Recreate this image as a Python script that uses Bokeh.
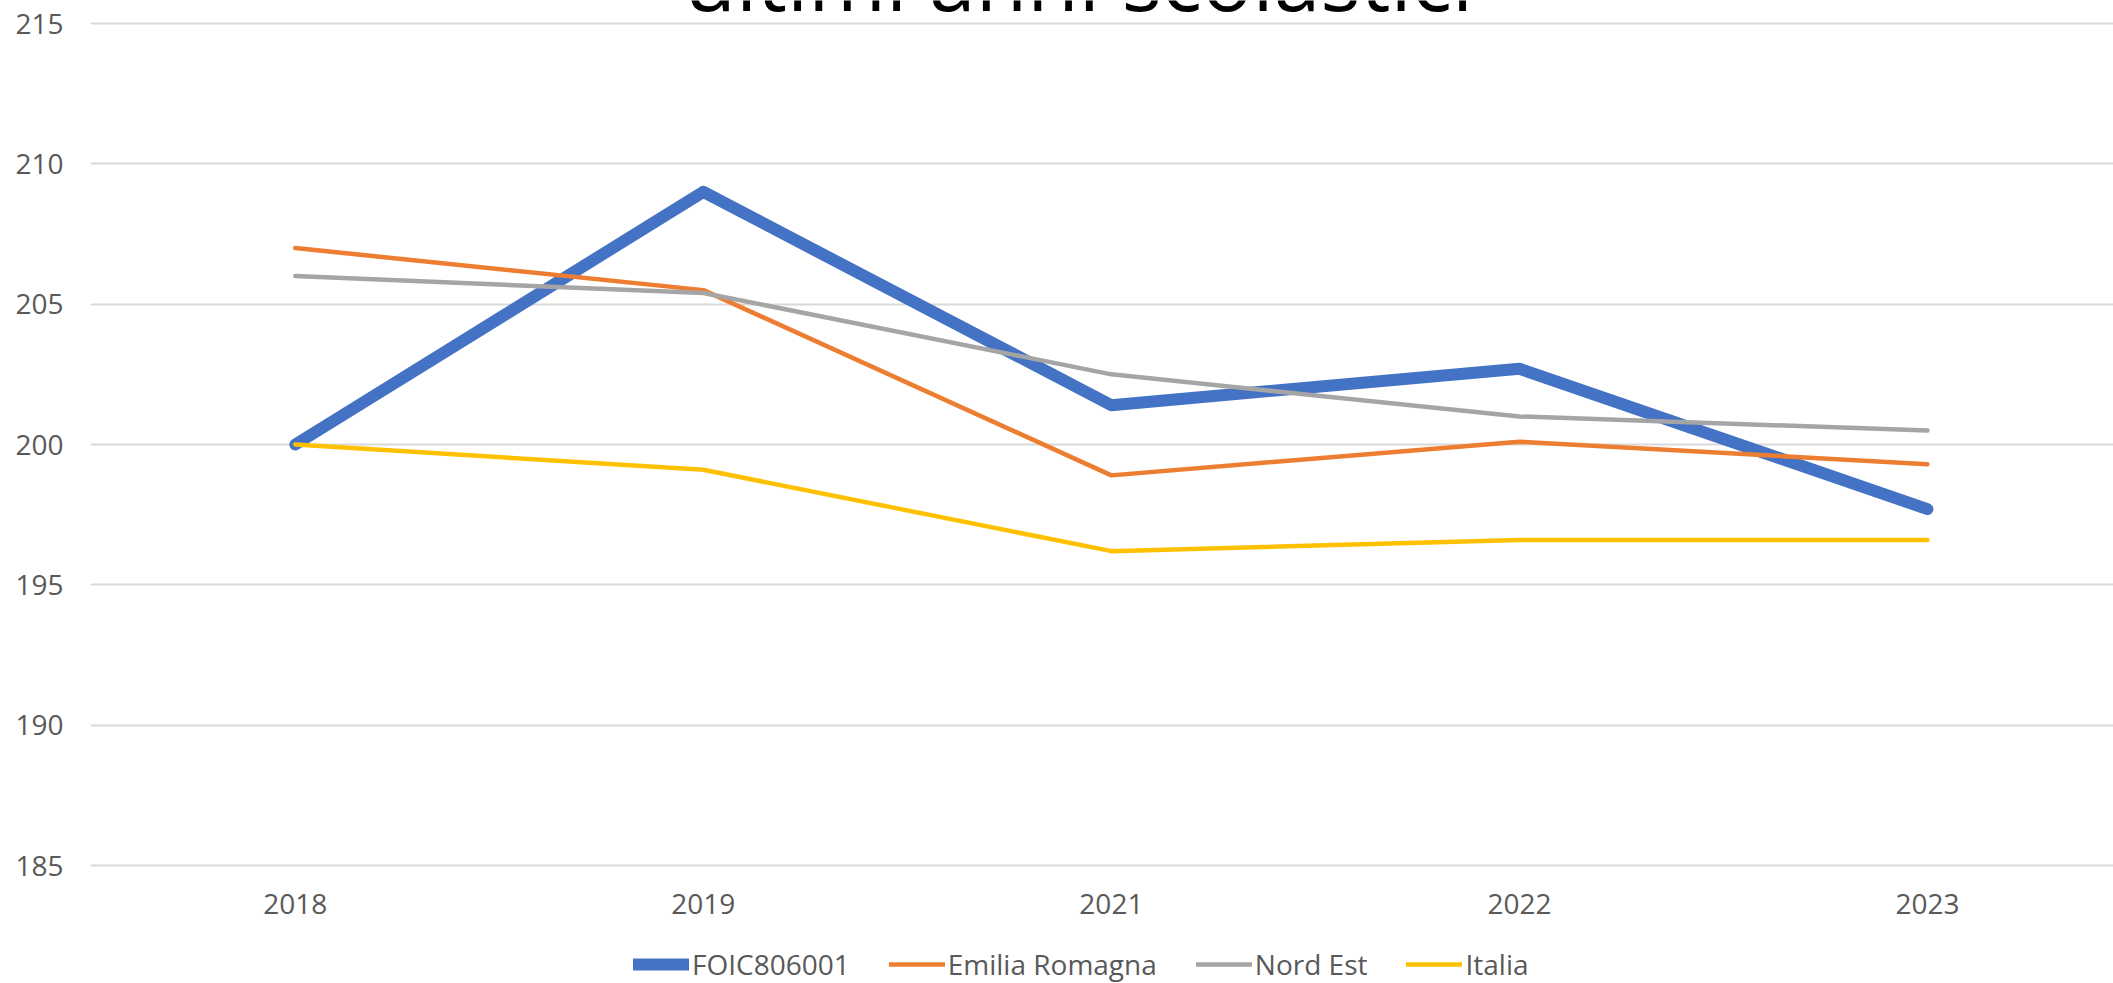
from bokeh.plotting import figure
from bokeh.models import Range1d, FixedTicker, Legend, LegendItem, Label
from bokeh.embed import file_html
from bokeh.resources import INLINE

# ---- data ----
years = ["2018", "2019", "2021", "2022", "2023"]
foic = [200.0, 209.0, 201.4, 202.7, 197.7]
emilia = [207.0, 205.5, 198.9, 200.1, 199.3]
nord_est = [206.0, 205.4, 202.5, 201.0, 200.5]
italia = [200.0, 199.1, 196.2, 196.6, 196.6]
series_names = ["FOIC806001", "Emilia Romagna", "Nord Est", "Italia"]
y_ticks = [185, 190, 195, 200, 205, 210, 215]
title_text = "ultimi anni scolastici"

# ---- styles ----
colors = ["#4472C4", "#ED7D31", "#A5A5A5", "#FFC000"]
widths = [12, 4.5, 4.5, 4.5]
FONT = "Open Sans"
TXT = "#595959"
FS = "28px"

W, H = 2113, 983
xs = list(range(len(years)))
# the frame fills the whole canvas height: the cut-off title, year labels
# and legend all sit inside it, outside the grid lines
px = 30 / 842.0          # data units per pixel on the y axis
y_lo = y_ticks[0] - 118 * px
y_hi = y_ticks[-1] + 23 * px

p = figure(width=W, height=H, output_backend="svg", toolbar_location=None,
           x_range=Range1d(-0.502, 4.456), y_range=Range1d(y_lo, y_hi),
           min_border_left=90, min_border_right=0, min_border_top=0,
           min_border_bottom=0)
p.outline_line_color = None
p.background_fill_color = "white"
p.border_fill_color = "white"

renderers = []
for name, vals, c, w in zip(series_names, [foic, emilia, nord_est, italia], colors, widths):
    r = p.line(xs, vals, line_color=c, line_width=w, line_cap="round", line_join="round")
    renderers.append((name, r))

# axes
p.xaxis.ticker = FixedTicker(ticks=xs)
p.xaxis.major_label_overrides = {i: y for i, y in enumerate(years)}
p.xaxis.fixed_location = y_ticks[0]
p.yaxis.ticker = FixedTicker(ticks=y_ticks)
for ax in (p.xaxis[0], p.yaxis[0]):
    ax.axis_line_color = None
    ax.major_tick_line_color = None
    ax.minor_tick_line_color = None
    ax.major_tick_out = 0
    ax.major_tick_in = 0
    ax.major_label_text_font = FONT
    ax.major_label_text_font_size = FS
    ax.major_label_text_color = TXT
p.xaxis.major_label_standoff = 28
p.yaxis.major_label_standoff = 27

p.xgrid.grid_line_color = None
p.ygrid.grid_line_color = "#D9D9D9"
p.ygrid.grid_line_width = 2
p.ygrid.ticker = FixedTicker(ticks=y_ticks)

# legend
legend = Legend(items=[LegendItem(label=n, renderers=[r]) for n, r in renderers],
                orientation="horizontal", location=(543, 0),
                glyph_width=56, glyph_height=32, label_height=32,
                label_standoff=3, spacing=39, padding=0, margin=0,
                label_text_font=FONT, label_text_font_size=FS,
                label_text_color=TXT, border_line_color=None,
                background_fill_alpha=0)
p.add_layout(legend, "center")

# title (cut off at the top, as in the reference)
p.add_layout(Label(x=1.92, y=y_ticks[-1] + 45 * px, text=title_text,
                   text_align="center", text_baseline="alphabetic",
                   text_font=FONT, text_font_size="84px", text_color="black"))

open("out.html", "w").write(file_html(p, INLINE))
